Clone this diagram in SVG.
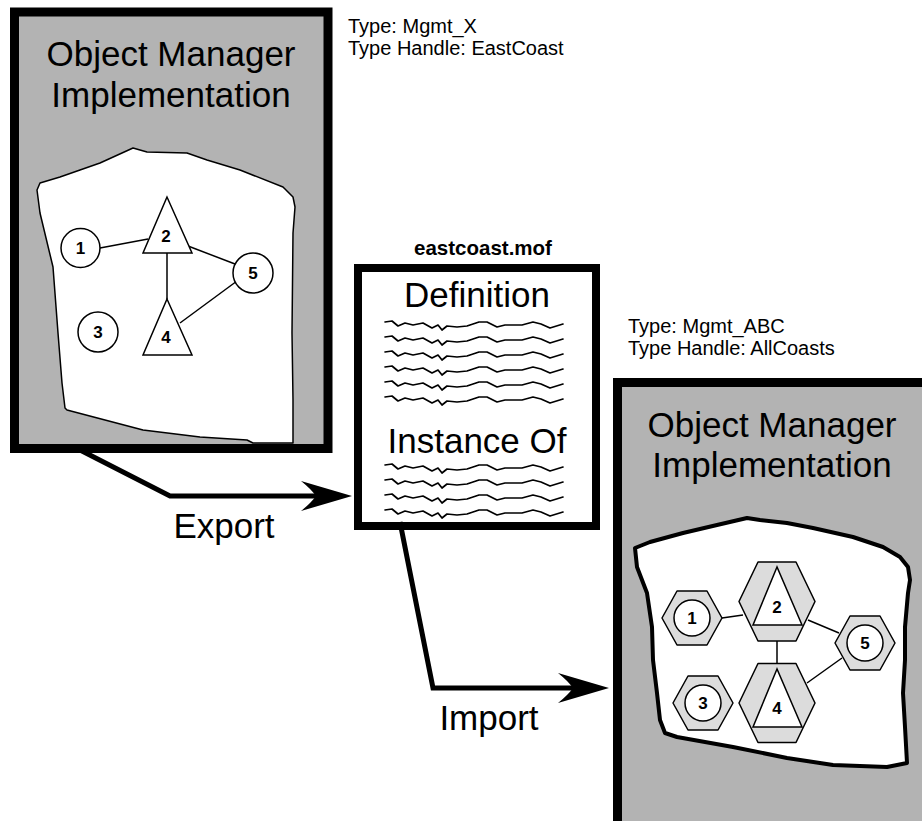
<svg xmlns="http://www.w3.org/2000/svg" xmlns:xlink="http://www.w3.org/1999/xlink" width="922" height="821" viewBox="0 0 922 821">
<style>
.panel{fill:#b3b3b3;stroke:#000;stroke-width:9}
.doc{fill:#fff;stroke:#000;stroke-width:8}
.blob1{fill:#fff;stroke:#000;stroke-width:1.5;stroke-linejoin:round}
.blob2{fill:#fff;stroke:#000;stroke-width:4;stroke-linejoin:round}
.t{font-family:"Liberation Sans",Arial,sans-serif;fill:#000}
.big{font-size:35px;text-anchor:middle}
.small{font-size:20px}
.num{font-size:17px;font-weight:bold;text-anchor:middle}
.node{fill:#fff;stroke:#000;stroke-width:1.5}
.hex{fill:#dcdcdc;stroke:#000;stroke-width:1.5;stroke-linejoin:round}
.edge{stroke:#000;stroke-width:1.5;fill:none}
.conn{stroke:#000;stroke-width:5;fill:none;stroke-linejoin:miter}
.sq{stroke:#000;stroke-width:1.7;fill:none;stroke-linejoin:round;stroke-linecap:round}
</style>
<defs>
<marker id="arrow" markerUnits="userSpaceOnUse" markerWidth="60" markerHeight="40" viewBox="0 0 60 40" refX="19" refY="20" orient="auto">
<path d="M55,20 L4,5 Q14,13 19,20 Q14,27 4,35 Z" fill="#000"/>
</marker>
<path id="squig" d="M0,0 L7,-1 L13,4 L20,1 L28,3 L38,1 L47,6 L53,3 L57,8 L62,4 L72,5 L82,4 L94,0 L102,0 L112,5 L120,3 L137,3 L148,0 L156,2 L165,6 L178,2"/>
<polygon id="hexS" points="-30,0 -15,-27 15,-27 30,0 15,27 -15,27"/>
<polygon id="hexL" points="-38,0 -19,-39.5 19,-39.5 38,0 19,39.5 -19,39.5"/>
</defs>

<g id="export-manager">
<rect class="panel" x="14.5" y="12" width="313.5" height="436.5"/>
<text class="t big" x="171" y="66">Object Manager</text>
<text class="t big" x="171" y="107">Implementation</text>
<path class="blob1" d="M37,190 L40,183 L60,177 L100,163 L133,148 L147,152 L187,153 L207,160 L240,170 L283,187 L293,197 L295,207 L293,233 L292,333 L293,400 L293,443 L253,443 L247,440 L200,437 L143,430 L67,410 L65,408 L62,383 L58,333 L53,267 L40,213 Z"/>
<g id="left-edges">
<line class="edge" x1="100" y1="248" x2="148" y2="239"/>
<line class="edge" x1="167" y1="253" x2="167" y2="299"/>
<line class="edge" x1="188" y1="246" x2="235" y2="264"/>
<line class="edge" x1="180" y1="323" x2="237" y2="281"/>
</g>
<g id="l-node1"><circle class="node" cx="80.5" cy="248" r="19.5"/><text class="t num" x="80.5" y="254">1</text></g>
<g id="l-node2"><polygon class="node" points="167,197 143,253 192,253"/><text class="t num" x="166" y="242">2</text></g>
<g id="l-node3"><circle class="node" cx="98" cy="332" r="20"/><text class="t num" x="98" y="338">3</text></g>
<g id="l-node4"><polygon class="node" points="167,299 143,355 192,355"/><text class="t num" x="166" y="343">4</text></g>
<g id="l-node5"><circle class="node" cx="253" cy="273" r="20"/><text class="t num" x="253" y="279">5</text></g>
</g>
<g id="export-labels">
<text class="t small" x="348" y="33">Type: Mgmt_X</text>
<text class="t small" x="348" y="55">Type Handle: EastCoast</text>
</g>

<g id="mof-file">
<text class="t" x="483" y="255" font-size="20.5" font-weight="bold" text-anchor="middle">eastcoast.mof</text>
<rect class="doc" x="358" y="268" width="238" height="258"/>
<text class="t big" x="477" y="307">Definition</text>
<g class="sq">
<use xlink:href="#squig" x="385" y="322"/>
<use xlink:href="#squig" x="385" y="337"/>
<use xlink:href="#squig" x="385" y="352"/>
<use xlink:href="#squig" x="385" y="367"/>
<use xlink:href="#squig" x="385" y="382"/>
<use xlink:href="#squig" x="385" y="397"/>
</g>
<text class="t big" x="477" y="453">Instance Of</text>
<g class="sq">
<use xlink:href="#squig" x="385" y="465"/>
<use xlink:href="#squig" x="385" y="480"/>
<use xlink:href="#squig" x="385" y="495"/>
<use xlink:href="#squig" x="385" y="510"/>
</g>
</g>

<g id="import-manager">
<rect class="panel" x="617.5" y="382.5" width="330" height="460"/>
<text class="t big" x="772" y="437">Object Manager</text>
<text class="t big" x="772" y="477">Implementation</text>
<path class="blob2" d="M635,548 L650,542 L683,533 L717,525 L747,518 L760,520 L787,523 L813,528 L853,537 L883,547 L900,557 L908,567 L910,580 L908,593 L905,627 L905,660 L903,693 L905,727 L907,763 L887,767 L833,765 L787,758 L733,747 L677,737 L665,733 L660,720 L657,693 L653,660 L652,627 L647,593 L637,567 Z"/>
<g id="right-edges">
<line class="edge" x1="722" y1="618" x2="743" y2="615"/>
<line class="edge" x1="808" y1="620" x2="839" y2="633"/>
<line class="edge" x1="777" y1="641" x2="777" y2="663"/>
<line class="edge" x1="807" y1="683" x2="842" y2="658"/>
</g>
<g id="r-node1"><use xlink:href="#hexS" class="hex" x="692" y="618"/><circle class="node" cx="692" cy="618" r="18"/><text class="t num" x="692" y="624">1</text></g>
<g id="r-node2"><use xlink:href="#hexL" class="hex" x="777" y="601.5"/><polygon class="node" points="777,567 753,625 802,625"/><text class="t num" x="777" y="613">2</text></g>
<g id="r-node3"><use xlink:href="#hexS" class="hex" x="703" y="703"/><circle class="node" cx="703" cy="703" r="18"/><text class="t num" x="703" y="709">3</text></g>
<g id="r-node4"><use xlink:href="#hexL" class="hex" x="777" y="703"/><polygon class="node" points="777,669 753,727 802,727"/><text class="t num" x="777" y="714">4</text></g>
<g id="r-node5"><use xlink:href="#hexS" class="hex" x="865" y="643"/><circle class="node" cx="865" cy="643" r="18"/><text class="t num" x="865" y="649">5</text></g>
</g>
<g id="import-labels">
<text class="t small" x="628" y="333">Type: Mgmt_ABC</text>
<text class="t small" x="628" y="355">Type Handle: AllCoasts</text>
</g>

<g id="connectors">
<polyline class="conn" points="80,450 170,496 316,496" marker-end="url(#arrow)"/>
<polyline class="conn" points="400,522 433,688 573,688" marker-end="url(#arrow)"/>
<text class="t big" x="224" y="538">Export</text>
<text class="t big" x="489" y="730">Import</text>
</g>
</svg>
